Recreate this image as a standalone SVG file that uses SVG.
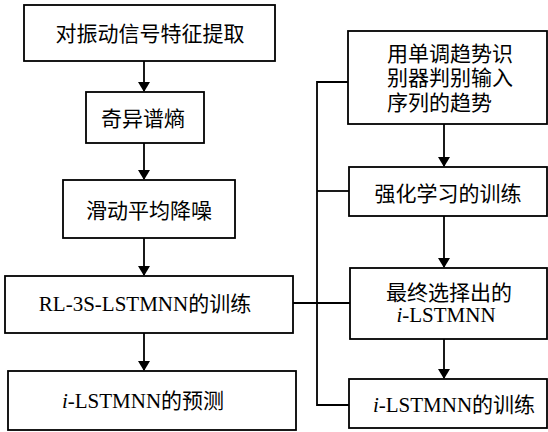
<svg xmlns="http://www.w3.org/2000/svg" width="548" height="432" viewBox="0 0 548 432">
<style>
.box{fill:#fff;stroke:#000;stroke-width:1.8}
.t{font-family:"Liberation Serif","Noto Sans CJK SC",serif;font-size:21px;fill:#000}
.c{text-anchor:middle}
.ln{fill:none;stroke:#000;stroke-width:1.8}
</style>
<defs>
<marker id="ah" markerWidth="10" markerHeight="14" refX="9" refY="6" orient="auto" markerUnits="userSpaceOnUse" viewBox="0 0 10 12">
<path d="M0,0 L10,6 L0,12 Z" fill="#000" transform="rotate(0)"/>
</marker>
</defs>
<g id="connectors">
<line class="ln" x1="144" y1="61" x2="144" y2="91" marker-end="url(#ah)"/>
<line class="ln" x1="144" y1="143" x2="144" y2="179" marker-end="url(#ah)"/>
<line class="ln" x1="144" y1="238" x2="144" y2="275" marker-end="url(#ah)"/>
<line class="ln" x1="144" y1="333" x2="144" y2="370" marker-end="url(#ah)"/>
<line class="ln" x1="444" y1="124" x2="444" y2="166" marker-end="url(#ah)"/>
<line class="ln" x1="444" y1="216" x2="444" y2="267" marker-end="url(#ah)"/>
<line class="ln" x1="444" y1="339" x2="444" y2="378" marker-end="url(#ah)"/>
<path class="ln" d="M348,82 H317 V405 H349"/>
<line class="ln" x1="317" y1="191" x2="349" y2="191"/>
<line class="ln" x1="293" y1="303" x2="350" y2="303"/>
</g>
<g id="n1"><rect class="box" x="24" y="5" width="251" height="56"/><text class="t c" x="150" y="41">对振动信号特征提取</text></g>
<g id="n2"><rect class="box" x="86" y="92" width="118" height="51"/><text class="t c" x="143" y="126">奇异谱熵</text></g>
<g id="n3"><rect class="box" x="63" y="180" width="172" height="58"/><text class="t c" x="149" y="218">滑动平均降噪</text></g>
<g id="n4"><rect class="box" x="5" y="276" width="288" height="57"/><text class="t c" x="145" y="311">RL-3S-LSTMNN的训练</text></g>
<g id="n5"><rect class="box" x="8" y="371" width="288" height="59"/><text class="t c" x="143" y="408"><tspan font-style="italic">i</tspan>-LSTMNN的预测</text></g>
<g id="nA"><rect class="box" x="348" y="31" width="199" height="93"/><text class="t" x="387" y="61">用单调趋势识</text><text class="t" x="387" y="85">别器判别输入</text><text class="t" x="387" y="110">序列的趋势</text></g>
<g id="nB"><rect class="box" x="349" y="167" width="198" height="49"/><text class="t c" x="448" y="201">强化学习的训练</text></g>
<g id="nC"><rect class="box" x="350" y="268" width="197" height="71"/><text class="t c" x="449" y="300">最终选择出的</text><text class="t c" x="446" y="322"><tspan font-style="italic">i</tspan>-LSTMNN</text></g>
<g id="nD"><rect class="box" x="349" y="379" width="198" height="49"/><text class="t c" x="454" y="412"><tspan font-style="italic">i</tspan>-LSTMNN的训练</text></g>
</svg>
